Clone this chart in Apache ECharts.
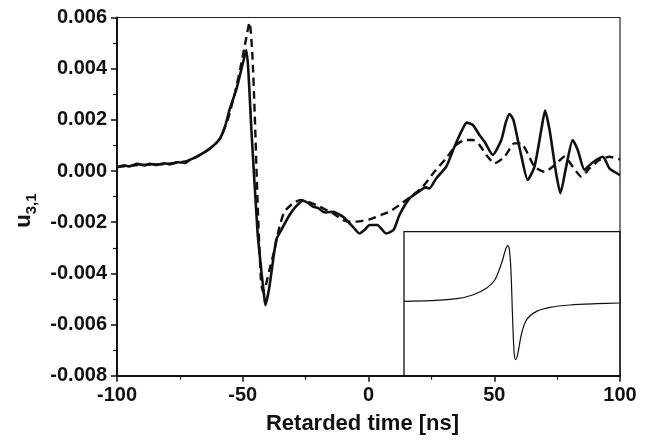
<!DOCTYPE html>
<html>
<head>
<meta charset="utf-8">
<script src="https://cdn.jsdelivr.net/npm/echarts@6/dist/echarts.min.js"></script>
<style>
  html, body { margin: 0; padding: 0; background: #fff; }
  #chart { width: 659px; height: 441px; }
</style>
</head>
<body>
<div id="chart"></div>
<script>
// measured signal (solid)
const measured = [
    [-100, 0.00014], [-97, 0.00022], [-95, 0.00018], [-92, 0.00028], [-89, 0.00022],
    [-87, 0.00028], [-84, 0.00024], [-81, 0.00030], [-79, 0.00026], [-76, 0.00034],
    [-73, 0.00032], [-71, 0.00044], [-69, 0.00052], [-67, 0.00063], [-65, 0.00075],
    [-63, 0.00089], [-61, 0.00105], [-59, 0.00128], [-57, 0.00175], [-55.3, 0.00238],
    [-52.6, 0.00317], [-50.6, 0.00395], [-48.6, 0.00473], [-46.5, 0.0015],
    [-44.1, -0.00242], [-42.5, -0.0040], [-41.7, -0.0047], [-41, -0.00524],
    [-39.4, -0.00452], [-36.7, -0.0027], [-34.7, -0.00231], [-31.4, -0.00172],
    [-29, -0.0014], [-26.1, -0.00116], [-24, -0.00125], [-22.3, -0.00138],
    [-20, -0.00145], [-18, -0.0016], [-16.8, -0.00162], [-14, -0.00159],
    [-12, -0.00168], [-10, -0.0018], [-8, -0.0020], [-6, -0.0022], [-3.6, -0.00244],
    [-1.5, -0.0023], [0.4, -0.00211], [3.5, -0.00211], [7, -0.00244], [10, -0.0023],
    [12.3, -0.00172], [16.3, -0.00107], [19, -0.00087], [22.9, -0.00064],
    [24.2, -0.00068], [26.9, -0.00029], [30.9, 0.00017], [34.2, 0.00095],
    [36.9, 0.00154], [39.1, 0.00189], [41.5, 0.0018], [44.1, 0.00141],
    [46.1, 0.00115], [49.4, 0.00063], [52.8, 0.00121], [54.6, 0.0019], [56.1, 0.00223],
    [57.6, 0.0020], [59.2, 0.0013], [60.7, 0.00062], [63.3, -0.00035], [66, 0.00017],
    [68.7, 0.0016], [70.2, 0.00236], [72, 0.0016], [74.6, -0.00009],
    [76.3, -0.00087], [78.6, 0.00017], [81.2, 0.00121], [83.2, 0.00082],
    [85.9, 0.00004], [87.9, 0.00023], [90.5, 0.00043], [93.2, 0.00056],
    [95.8, 0.0001], [100, -0.00016]
];

// simulated signal (dashed)
const simulated = [
    [-100, 0.00016], [-90, 0.00024], [-80, 0.00028], [-72, 0.00040], [-66, 0.00068],
    [-62, 0.00095], [-59, 0.00128], [-56, 0.0020], [-53, 0.0031], [-51, 0.0040],
    [-49, 0.0050], [-47.3, 0.0058], [-46.2, 0.0046], [-45.3, 0.0024], [-44, -0.0015],
    [-42.8, -0.0042], [-42, -0.0047], [-41.2, -0.0046], [-39.4, -0.00387],
    [-37.4, -0.00309], [-35.4, -0.00218], [-33.4, -0.00159], [-30, -0.00126],
    [-27, -0.00113], [-24, -0.0012], [-20.8, -0.00133], [-14.2, -0.00165],
    [-9.5, -0.00195], [-4.9, -0.00198], [0.4, -0.00189], [5, -0.00172],
    [8.3, -0.00159], [13, -0.00128], [17.6, -0.00094], [21.6, -0.00061],
    [26.2, -0.00003], [30.9, 0.0005], [34.9, 0.00102], [38.2, 0.00121],
    [41.5, 0.00121], [44.1, 0.00102], [46.8, 0.00063], [50.1, 0.0003],
    [54.1, 0.00056], [58, 0.00108], [60.7, 0.00108], [63.3, 0.00069],
    [66, 0.00017], [70, -0.00003], [74, 0.00023], [77.9, 0.00056],
    [81.2, 0.00017], [84.6, -0.00022], [87.9, 0.0001], [91.8, 0.00043],
    [95.8, 0.00056], [100, 0.00045]
];

// inset curve (arbitrary units)
const insetX = [0, 12, 24.4, 32.1, 38.3, 42.1, 45.2, 47, 48, 48.7, 49.5, 50.3, 51,
    51.7, 52.6, 54.5, 56.8, 61.4, 67.6, 76.9, 89.2, 99.7];
const insetY = [0.3, 1, 3, 7, 13.7, 22, 38.7, 52, 56, 53.7, 32, -18, -51.3, -58,
    -53, -31.3, -18, -9.7, -5.7, -3.3, -2, -1.3];

const xTicks = { min: -100, max: 100, step: 50 };
const yTicks = { min: -0.008, max: 0.006, step: 0.002 };

const font = 'Liberation Sans, Arial, sans-serif';
const chart = echarts.init(document.getElementById('chart'));

chart.setOption({
    animation: false,
    backgroundColor: '#fff',
    grid: [
        { left: 117, top: 17.5, right: 39, bottom: 65.3, show: true, borderColor: '#222', borderWidth: 1.2 },
        { left: 404, top: 231.7, right: 39, bottom: 65.3, show: true, borderColor: '#111', borderWidth: 1.3 }
    ],
    xAxis: [{
        type: 'value',
        gridIndex: 0,
        min: xTicks.min,
        max: xTicks.max,
        interval: xTicks.step,
        name: 'Retarded time [ns]',
        nameLocation: 'middle',
        nameGap: 37,
        nameTextStyle: { fontFamily: font, fontSize: 22, fontWeight: 'bold', color: '#111', padding: [0, 12, 0, 0] },
        axisLine: { show: true, onZero: false, lineStyle: { color: '#111', width: 2 } },
        axisTick: { show: true, length: 6, lineStyle: { color: '#111', width: 1.5 } },
        minorTick: { show: true, splitNumber: 2, length: 4, lineStyle: { color: '#111', width: 1.2 } },
        splitLine: { show: false },
        axisLabel: { margin: 10, fontFamily: font, fontSize: 20, fontWeight: 'bold', color: '#111' }
    }, {
        type: 'value',
        gridIndex: 1,
        min: 0,
        max: 100,
        show: false
    }],
    yAxis: [{
        type: 'value',
        gridIndex: 0,
        min: yTicks.min,
        max: yTicks.max,
        interval: yTicks.step,
        name: '{u|u}{s|3,1}',
        nameLocation: 'middle',
        nameGap: 78,
        nameTextStyle: {
            padding: [0, 28, 0, 0],
            rich: {
                u: { fontFamily: font, fontSize: 22, fontWeight: 'bold', color: '#111', verticalAlign: 'top', lineHeight: 26 },
                s: { fontFamily: font, fontSize: 15, fontWeight: 'bold', color: '#111', verticalAlign: 'bottom', lineHeight: 26, padding: [10, 0, 0, 0] }
            }
        },
        axisLine: { show: true, onZero: false, lineStyle: { color: '#111', width: 2 } },
        axisTick: { show: true, length: 6, lineStyle: { color: '#111', width: 1.5 } },
        minorTick: { show: true, splitNumber: 2, length: 4, lineStyle: { color: '#111', width: 1.2 } },
        splitLine: { show: false },
        axisLabel: {
            margin: 10,
            fontFamily: font,
            fontSize: 20,
            fontWeight: 'bold',
            color: '#111',
            formatter: v => v.toFixed(3)
        }
    }, {
        type: 'value',
        gridIndex: 1,
        min: -74,
        max: 70,
        show: false
    }],
    series: [{
        type: 'line',
        xAxisIndex: 0,
        yAxisIndex: 0,
        data: simulated,
        showSymbol: false,
        smooth: 0.2,
        lineStyle: { color: '#111', width: 2.4, type: [8, 5] },
        z: 3
    }, {
        type: 'line',
        xAxisIndex: 0,
        yAxisIndex: 0,
        data: measured,
        showSymbol: false,
        smooth: 0.2,
        lineStyle: { color: '#111', width: 2.6 },
        z: 4
    }, {
        type: 'line',
        xAxisIndex: 1,
        yAxisIndex: 1,
        data: insetX.map((x, i) => [x, insetY[i]]),
        showSymbol: false,
        smooth: 0.3,
        lineStyle: { color: '#111', width: 1.2 }
    }]
});
</script>
</body>
</html>
